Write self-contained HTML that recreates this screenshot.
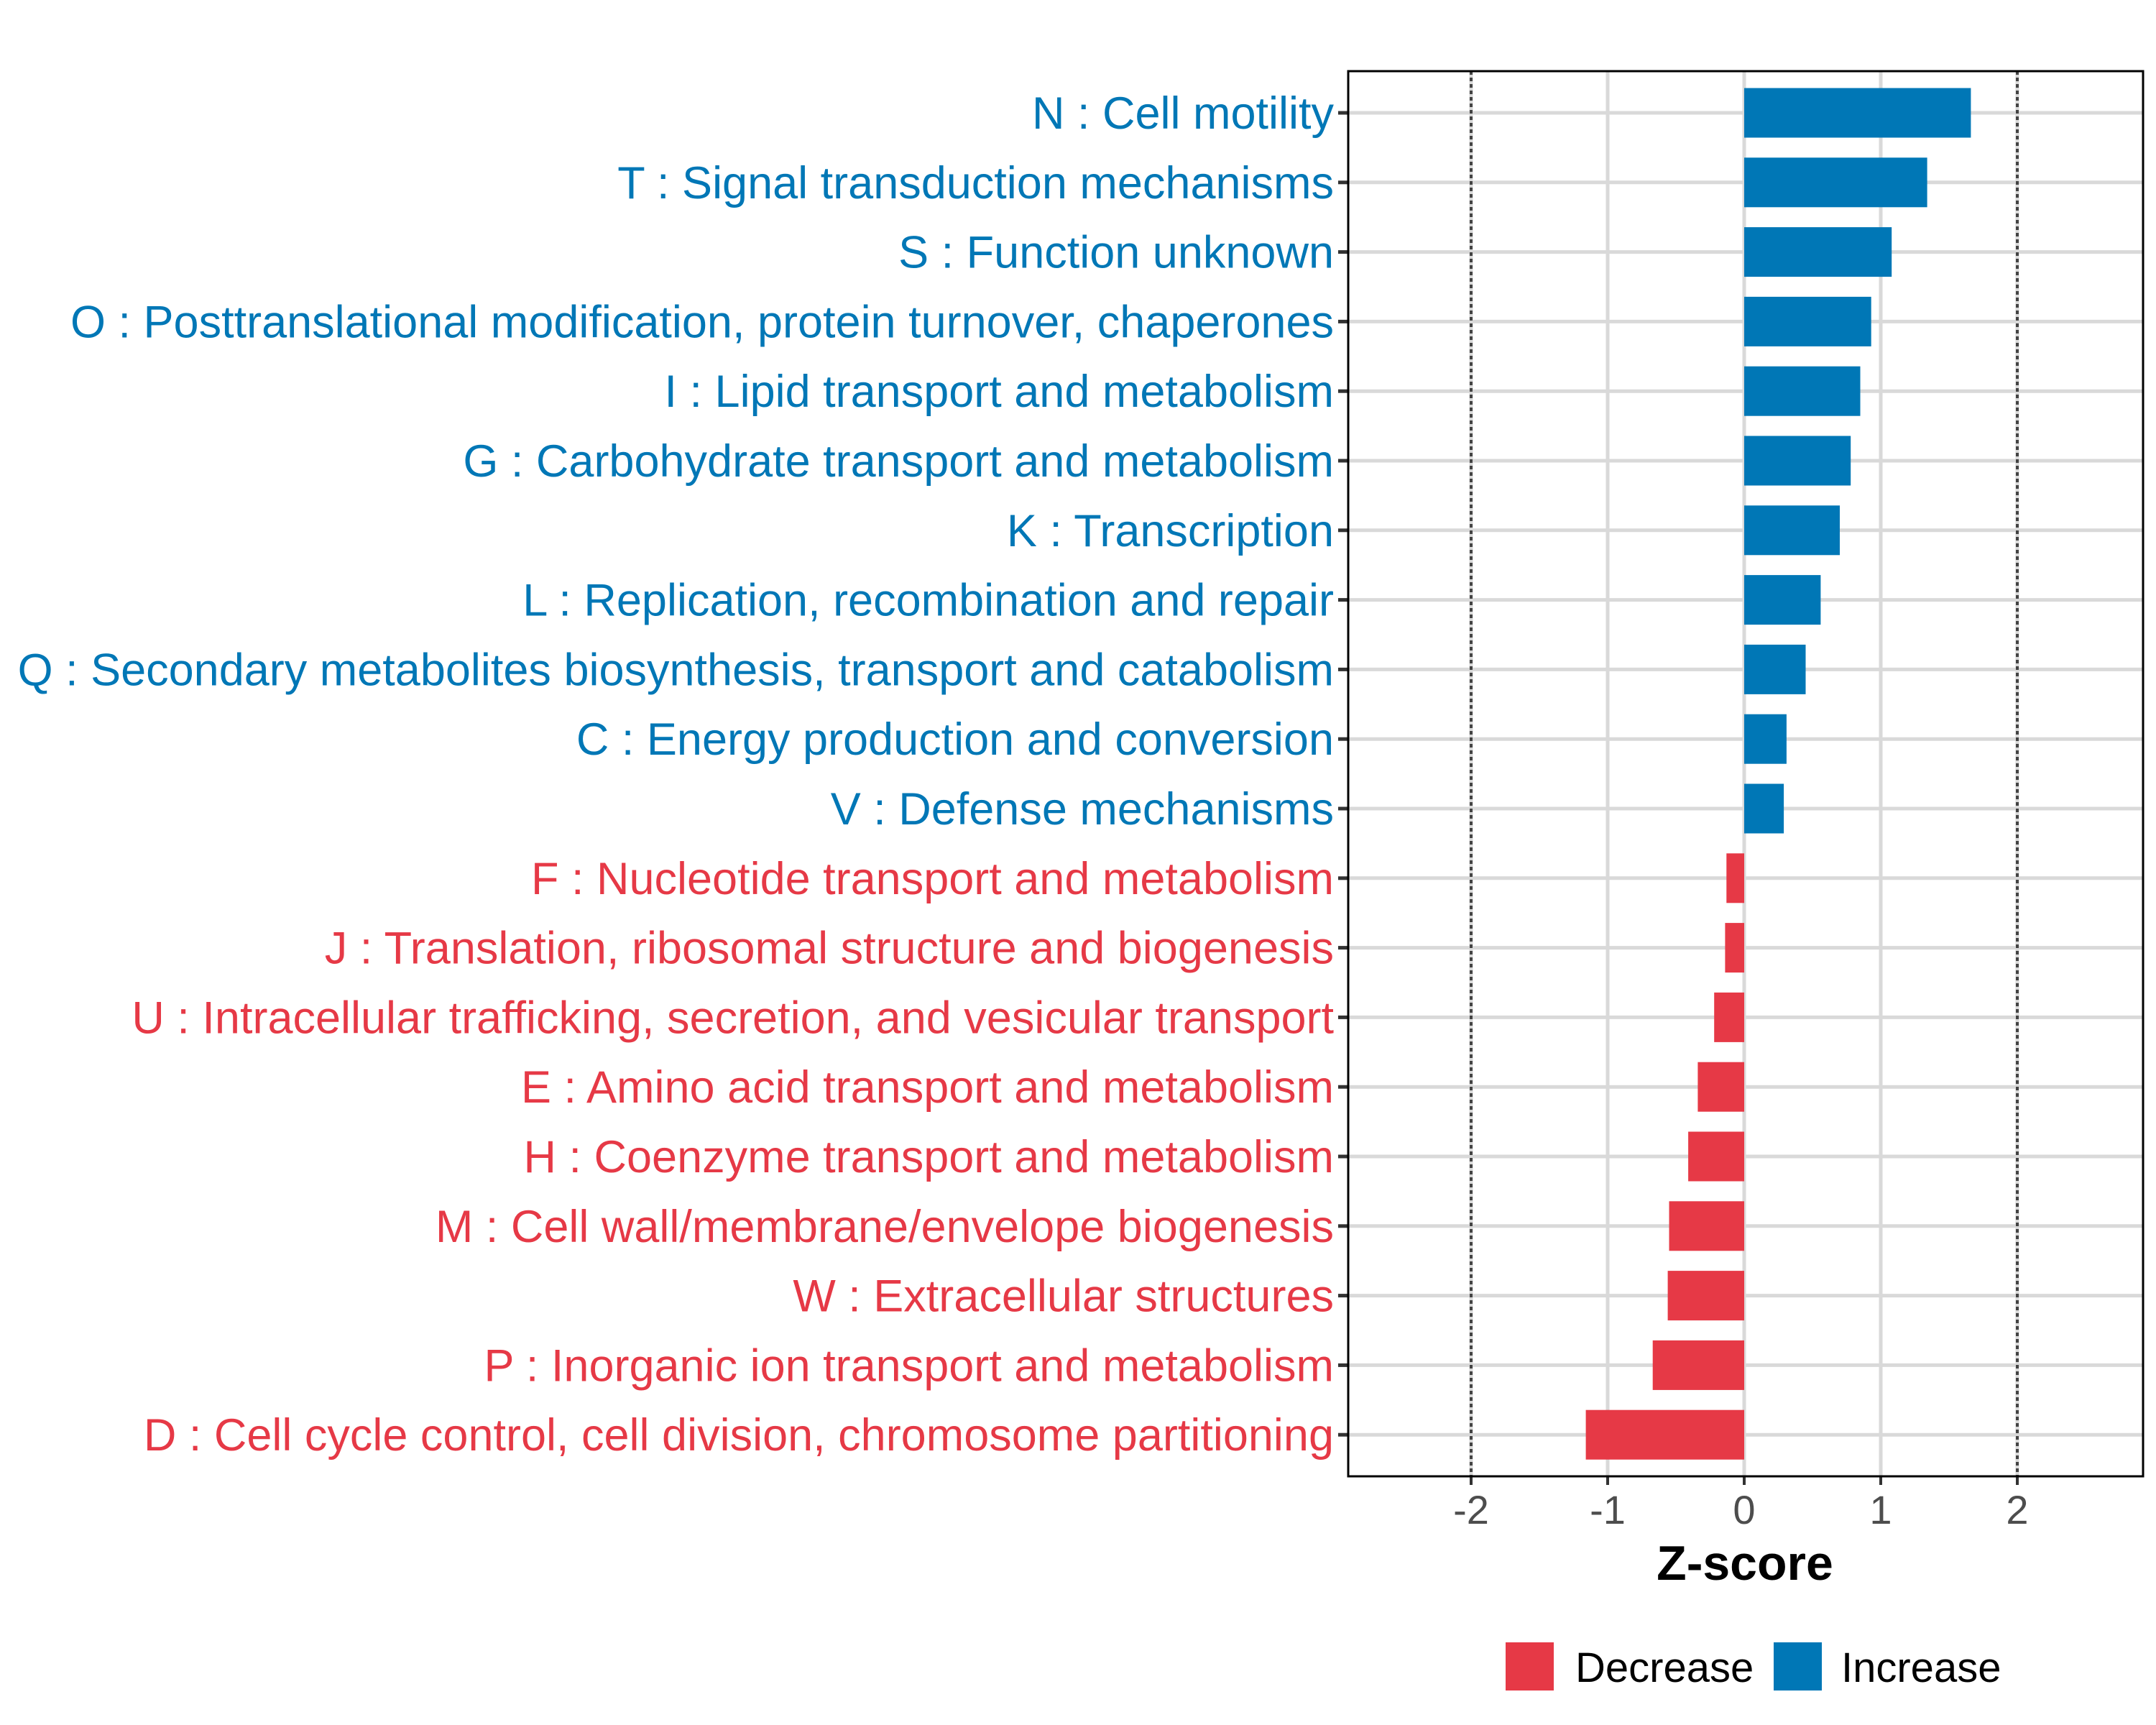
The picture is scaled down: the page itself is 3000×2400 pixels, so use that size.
<!DOCTYPE html>
<html><head><meta charset="utf-8"><style>
html,body{margin:0;padding:0;background:#fff;}
svg{display:block;font-family:"Liberation Sans",Arial,sans-serif;}
</style></head><body>
<svg id="chart" width="3000" height="2400" viewBox="0 0 3000 2400">
<g id="grid"></g>
<g id="bars"></g>
<g id="yaxis"></g>
<g id="xaxis"></g>
<rect x="1876" y="99" width="1106" height="1955" fill="none" stroke="#000" stroke-width="3"/>
<text x="2428" y="2198" font-size="68" font-weight="bold" text-anchor="middle">Z-score</text>
<g>
<rect x="2095" y="2285" width="67" height="67" fill="#e63946"/>
<text x="2192" y="2340" font-size="58">Decrease</text>
<rect x="2468" y="2285" width="67" height="67" fill="#0077b6"/>
<text x="2562" y="2340" font-size="58">Increase</text>
</g>
</svg>
<script>
const categories = ["N : Cell motility","T : Signal transduction mechanisms","S : Function unknown","O : Posttranslational modification, protein turnover, chaperones","I : Lipid transport and metabolism","G : Carbohydrate transport and metabolism","K : Transcription","L : Replication, recombination and repair","Q : Secondary metabolites biosynthesis, transport and catabolism","C : Energy production and conversion","V : Defense mechanisms","F : Nucleotide transport and metabolism","J : Translation, ribosomal structure and biogenesis","U : Intracellular trafficking, secretion, and vesicular transport","E : Amino acid transport and metabolism","H : Coenzyme transport and metabolism","M : Cell wall/membrane/envelope biogenesis","W : Extracellular structures","P : Inorganic ion transport and metabolism","D : Cell cycle control, cell division, chromosome partitioning"];
const zscores = [1.66,1.34,1.08,0.93,0.85,0.78,0.70,0.56,0.45,0.31,0.29,-0.13,-0.14,-0.22,-0.34,-0.41,-0.55,-0.56,-0.67,-1.16];
const xTicks = [-2,-1,0,1,2];
const xTickLabels = ["-2","-1","0","1","2"];
const thresholds = [-2,2];

const NS="http://www.w3.org/2000/svg";
const X0=2427, UNIT=190, TOP=99, BOTTOM=2054, LEFT=1876, RIGHT=2982;
const ROW0=157, ROWSTEP=96.8, BARH=69;
const xScale = v => X0 + v*UNIT;
const yScale = i => ROW0 + i*ROWSTEP;
const BLUE="#0077b6", RED="#e63946";
function mk(tag, attrs, parent){const e=document.createElementNS(NS,tag);for(const k in attrs)e.setAttribute(k,attrs[k]);parent.appendChild(e);return e;}
const grid=document.getElementById('grid'), bars=document.getElementById('bars'), ya=document.getElementById('yaxis'), xa=document.getElementById('xaxis');

xTicks.forEach((t,i)=>{
  const x=xScale(t);
  const g=mk('line',{x1:x,x2:x,y1:TOP,y2:BOTTOM,stroke:'#d9d9d9','stroke-width':5},grid);
  
  
  const tk=mk('line',{x1:x,x2:x,y1:BOTTOM,y2:BOTTOM+12,stroke:'#333','stroke-width':4},xa);
  
  
  const tl=mk('text',{x:x,y:2120,'font-size':56,'text-anchor':'middle',fill:'#4d4d4d'},xa);
  tl.textContent=xTickLabels[i];
  
  
});
categories.forEach((c,i)=>{
  const y=yScale(i);
  const g=mk('line',{x1:LEFT,x2:RIGHT,y1:y,y2:y,stroke:'#d9d9d9','stroke-width':5},grid);
  
  
});
thresholds.forEach(t=>{
  const x=xScale(t);
  const d=mk('line',{x1:x,x2:x,y1:TOP,y2:BOTTOM,stroke:'#444','stroke-width':4,'stroke-dasharray':'5 4'},grid);
  
  
});
categories.forEach((c,i)=>{
  const v=zscores[i], y=yScale(i);
  const col = v>=0?BLUE:RED;
  const x1=xScale(Math.min(0,v)), x2=xScale(Math.max(0,v));
  const r=mk('rect',{x:x1,y:y-BARH/2,width:x2-x1,height:BARH,fill:col},bars);
  
  
  const tk=mk('line',{x1:LEFT-14,x2:LEFT,y1:y,y2:y,stroke:'#333','stroke-width':5},ya);
  
  
  const t=mk('text',{x:1856,y:y+22,'font-size':63,'text-anchor':'end',fill:col},ya);
  t.textContent=c;
  
  
});
</script>
</body></html>
